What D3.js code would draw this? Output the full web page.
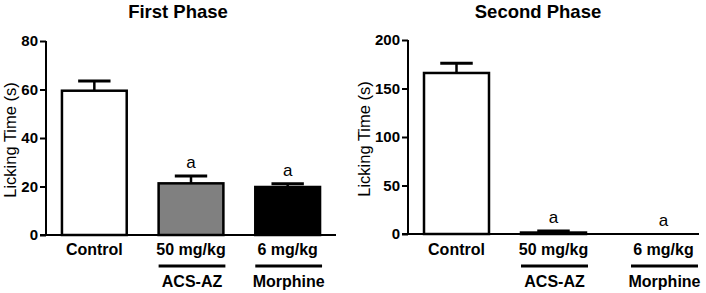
<!DOCTYPE html>
<html lang="en">
<head>
    <meta charset="UTF-8">
    <title>Licking time - first and second phase</title>
    <script src="https://cdn.jsdelivr.net/npm/d3@7"></script>
    <style>
        body, html { margin: 0; padding: 0; background: #fff; overflow: hidden; }
        svg { display: block; font-family: "Liberation Sans", Arial, sans-serif; }
    </style>
</head>
<body>
    <svg id="mainsvg"></svg>
    <script>
        // data
        const doses = ["Control", "50 mg/kg", "6 mg/kg"];
        const drugs = ["", "ACS-AZ", "Morphine"];
        const fills = ["#ffffff", "#808080", "#000000"];
        const marks = ["", "a", "a"];

        const firstMean = [59.5, 21.3, 19.8];
        const firstSem = [4.0, 3.0, 1.3];
        const firstTicks = [0, 20, 40, 60, 80];

        const secondMean = [166, 1.5, 0];
        const secondSem = [10, 1.5, 0];
        const secondTicks = [0, 50, 100, 150, 200];

        const width = 706, height = 293;
        const svg = d3.select("#mainsvg")
            .attr("width", width)
            .attr("height", height);

        function drawPanel(opt) {
            const g = svg.append("g");

            const x = d3.scaleBand()
                .domain(doses)
                .range([opt.x0, opt.x1])
                .paddingInner(0.33)
                .paddingOuter(0.165);
            const y = d3.scaleLinear()
                .domain([0, opt.max])
                .range([opt.y0, opt.y1]);

            // label centre (last group on the right panel sits further right)
            const cx = (d, i) => x(d) + x.bandwidth() / 2 + (opt.shift[i] || 0);

            // title
            g.append("text")
                .attr("x", opt.titleX).attr("y", 18)
                .attr("text-anchor", "middle")
                .attr("font-size", 18.5).attr("font-weight", "bold")
                .text(opt.title);

            // y axis
            const yAxis = g.append("g")
                .attr("transform", `translate(${opt.x0},0)`)
                .call(d3.axisLeft(y).tickValues(opt.ticks).tickSize(6).tickPadding(2));
            yAxis.select(".domain").attr("stroke", "#000").attr("stroke-width", 2)
                .attr("d", `M0,${opt.y0}V${opt.y1}`);
            yAxis.selectAll(".tick line").attr("stroke", "#000").attr("stroke-width", 2);
            yAxis.selectAll(".tick text")
                .attr("font-size", 15).attr("font-weight", "bold").attr("fill", "#000")
                .attr("font-family", "Liberation Sans, Arial, sans-serif");

            g.append("text")
                .attr("transform", `translate(${opt.labelX},${(opt.y0 + opt.y1) / 2 + 2}) rotate(-90)`)
                .attr("text-anchor", "middle")
                .attr("dominant-baseline", "central")
                .attr("font-size", 16.5)
                .text("Licking Time (s)");

            // error bars (upward only)
            doses.forEach((d, i) => {
                if (opt.sem[i] <= 0) return;
                const c = x(d) + x.bandwidth() / 2;
                const top = y(opt.mean[i] + opt.sem[i]);
                g.append("line")
                    .attr("x1", c).attr("x2", c)
                    .attr("y1", y(opt.mean[i])).attr("y2", top)
                    .attr("stroke", "#000").attr("stroke-width", 2.5);
                g.append("line")
                    .attr("x1", c - x.bandwidth() / 4).attr("x2", c + x.bandwidth() / 4)
                    .attr("y1", top).attr("y2", top)
                    .attr("stroke", "#000").attr("stroke-width", 3);
            });

            // bars
            g.selectAll("rect.bar")
                .data(doses)
                .join("rect")
                .attr("class", "bar")
                .attr("x", d => x(d))
                .attr("width", x.bandwidth())
                .attr("y", (d, i) => y(opt.mean[i]))
                .attr("height", (d, i) => y(0) - y(opt.mean[i]))
                .attr("fill", (d, i) => fills[i])
                .attr("stroke", "#000")
                .attr("stroke-width", (d, i) => opt.mean[i] > 0 ? 2.5 : 0);

            // x axis line
            g.append("line")
                .attr("x1", opt.x0 - 6).attr("x2", opt.x1)
                .attr("y1", opt.y0).attr("y2", opt.y0)
                .attr("stroke", "#000").attr("stroke-width", 2);

            // significance letters
            g.selectAll("text.sig")
                .data(doses)
                .join("text")
                .attr("class", "sig")
                .attr("x", cx)
                .attr("y", (d, i) => y(opt.mean[i] + opt.sem[i]) - 8)
                .attr("text-anchor", "middle")
                .attr("font-size", 17)
                .text((d, i) => marks[i]);

            // dose labels
            g.selectAll("text.dose")
                .data(doses)
                .join("text")
                .attr("class", "dose")
                .attr("x", cx)
                .attr("y", 255)
                .attr("text-anchor", "middle")
                .attr("font-size", 16).attr("font-weight", "bold")
                .text(d => d);

            // drug underline + name
            doses.forEach((d, i) => {
                if (!drugs[i]) return;
                const c = cx(d, i);
                g.append("line")
                    .attr("x1", c - x.bandwidth() / 2).attr("x2", c + x.bandwidth() / 2 + 2)
                    .attr("y1", 266).attr("y2", 266)
                    .attr("stroke", "#000").attr("stroke-width", 3);
                g.append("text")
                    .attr("x", c + 1).attr("y", 287)
                    .attr("text-anchor", "middle")
                    .attr("font-size", 16).attr("font-weight", "bold")
                    .text(drugs[i]);
            });
        }

        drawPanel({
            title: "First Phase", titleX: 178,
            x0: 46, x1: 336, y0: 235, y1: 41, max: 80,
            labelX: 10, ticks: firstTicks,
            mean: firstMean, sem: firstSem, shift: [0, 0, 0]
        });

        drawPanel({
            title: "Second Phase", titleX: 538,
            x0: 408, x1: 699, y0: 234, y1: 40, max: 200,
            labelX: 364, ticks: secondTicks,
            mean: secondMean, sem: secondSem, shift: [0, 0, 13]
        });
    </script>
</body>
</html>
